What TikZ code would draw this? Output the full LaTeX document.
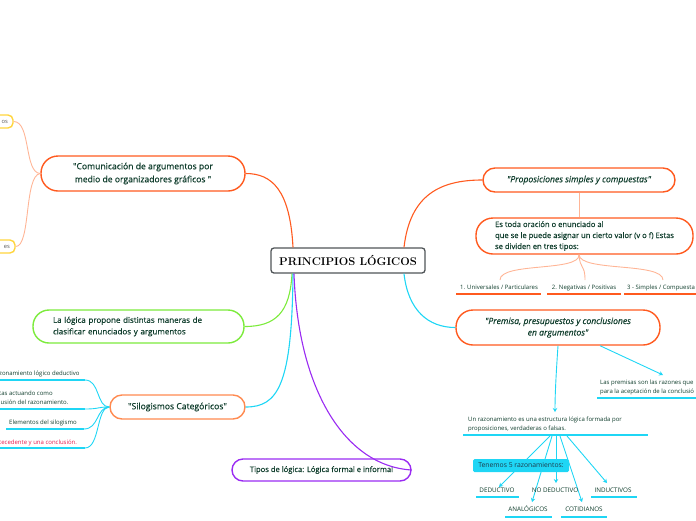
\documentclass[tikz,border=0pt]{standalone}
\usepackage{fontspec}
\newfontfamily\osf{Open Sans}
\newfontfamily\osb{Open Sans}[FakeBold=0.35]
\usetikzlibrary{arrows.meta}
\definecolor{ora}{HTML}{FF5A1F}
\definecolor{ora2}{HTML}{FF8A50}
\definecolor{salm}{HTML}{FFB596}
\definecolor{cya}{HTML}{1FD6F5}
\definecolor{grn}{HTML}{7CEB3C}
\definecolor{pur}{HTML}{9A2BF2}
\definecolor{yel}{HTML}{FFD53D}
\definecolor{txt}{HTML}{0F3D2C}
\definecolor{txtb}{HTML}{1D3A4A}
\definecolor{redt}{HTML}{E8194B}
\definecolor{cgray}{HTML}{505558}
\begin{document}
\begin{tikzpicture}[x=1pt,y=-1pt,
  base/.style={text=txt},
  pill/.style={base, draw, line width=1.4pt, fill=white, inner sep=0pt},
  conn/.style={line width=1.1pt},
  uline/.style={line width=1.8pt},
  small/.style={base, font=\osf\fontsize{6}{8}\selectfont, inner sep=0pt},
  caps/.style={base, font=\osf\fontsize{6.3}{7}\selectfont, inner sep=0pt, anchor=base},
  arr/.style={cya, line width=0.9pt, -{Stealth[length=4pt,width=4.5pt]}},
]
\useasboundingbox (0,0) rectangle (696,520);
\clip (0,0) rectangle (696,520);

% central
\node[draw=cgray, line width=1.3pt, rounded corners=3pt, fill=white, minimum width=154pt, minimum height=25pt, inner sep=0pt, font=\rmfamily\bfseries\fontsize{11.2}{13}\selectfont] (c) at (348,260.5) {PRINCIPIOS LÓGICOS};

% main topics
\node[pill, draw=ora, minimum width=204pt, minimum height=35pt, rounded corners=17pt, align=center, font=\osb\fontsize{8.6}{13}\selectfont] (com) at (143,173.5) {"Comunicación de argumentos por\\medio de organizadores gráficos "};
\node[pill, draw=grn, minimum height=33pt, rounded corners=16pt, text width=171pt, inner xsep=20pt, align=left, font=\osb\fontsize{8}{11.5}\selectfont] (lg) at (138.5,326.5) {La lógica propone distintas maneras de\\clasificar enunciados y argumentos};
\node[pill, draw=ora2, minimum width=135pt, minimum height=24pt, rounded corners=12pt, font=\osb\fontsize{8.6}{10}\selectfont] (sil) at (177.5,407) {"Silogismos Categóricos"};
\node[pill, draw=pur, fill=none, minimum width=179pt, minimum height=22pt, rounded corners=11pt, font=\osb\fontsize{7.6}{9}\selectfont] (tip) at (321.5,470) {Tipos de lógica: Lógica formal e informal};
\node[pill, draw=ora, minimum width=192pt, minimum height=24pt, rounded corners=12pt, font=\osb\itshape\fontsize{8.6}{10}\selectfont] (prop) at (579,180) {"Proposiciones simples y compuestas"};
\node[pill, draw=ora, minimum width=217pt, minimum height=36pt, rounded corners=17pt, align=left, font=\osb\fontsize{7.6}{11}\selectfont] (es) at (584.5,236) {Es toda oración o enunciado al\\que se le puede asignar un cierto valor (v o f) Estas\\se dividen en tres tipos:};
\node[pill, draw=ora, minimum width=204pt, minimum height=35pt, rounded corners=17pt, align=center, font=\osb\itshape\fontsize{8.6}{11.5}\selectfont] (prem) at (558,327.5) {"Premisa, presupuestos y conclusiones\\en argumentos"};

% yellow boxes (cut by the left edge)
\node[draw=yel, line width=1.4pt, rounded corners=5pt, minimum height=13pt, text width=45pt, inner xsep=5pt, inner ysep=0pt, align=right, fill=white, text=gray!70!black, font=\osf\fontsize{5.8}{7}\selectfont] (y1) at (-14.5,121.5) {os};
\node[draw=yel, line width=1.4pt, rounded corners=5pt, minimum height=13pt, text width=45pt, inner xsep=5pt, inner ysep=0pt, align=right, fill=white, text=gray!70!black, font=\osf\fontsize{5.8}{7}\selectfont] (y2) at (-12.5,246.5) {es};

% connectors from central
\draw[conn, ora] ([xshift=-55pt]c.north) .. controls (290,190) and (272,173.5) .. (com.east);
\draw[conn, grn] ([xshift=-56pt]c.south) .. controls (290,312) and (276,326.5) .. (lg.east);
\draw[conn, cya] ([xshift=-55pt]c.south) .. controls (292,385) and (278,407) .. (sil.east);
\draw[conn, pur] ([xshift=-54pt]c.south) .. controls (298,390) and (345,466) .. (tip.east);
\draw[conn, ora] ([xshift=56pt]c.north) .. controls (410,195) and (440,180) .. (prop.west);
\draw[conn, cya] ([xshift=56pt]c.south) .. controls (408,310) and (428,327.5) .. (prem.west);

% com -> yellow boxes
\draw[salm, line width=0.9pt] (com.west) .. controls (24,173) and (31,121.5) .. (y1.east);
\draw[salm, line width=0.9pt] (com.west) .. controls (24,175) and (31,246.5) .. (y2.east);

% silogismos children
\coordinate (u1) at (85,380);
\coordinate (u2) at (85,409);
\coordinate (u3) at (84,429);
\coordinate (u4) at (85,448);
\draw[uline, cya] (-5,380) -- (u1);
\draw[uline, cya] (-5,409) -- (u2);
\draw[uline, cya] (6,429) -- (u3);
\draw[uline, cya] (-5,448) -- (u4);
\foreach \u in {u1,u2,u3,u4}
  \draw[cya, line width=0.9pt] (sil.west) .. controls +(-13,0) and +(15,0) .. (\u);
\node[small, anchor=base west] (s1) at (-1,375) {zonamiento lógico deductivo};
\node[small, anchor=base west] (s2) at (-1,395) {tas actuando como};
\node[small, anchor=base west] (s2b) at (-1,404) {lusión del razonamiento.};
\node[small, anchor=base west] (s3) at (9,424) {Elementos del silogismo};
\node[small, anchor=base west, text=redt] (s4) at (-1,444) {tecedente y una conclusión.};

% proposiciones children
\draw[salm, line width=0.9pt] (prop.south) -- (prop.south |- es.north);
\coordinate (pb) at (prop.south |- es.south);
\coordinate (p1) at (500,280);
\coordinate (p2) at (585,280);
\coordinate (p3) at (663,280);
\draw[salm, line width=0.9pt] (pb) .. controls (580,272) and (500,262) .. (p1);
\draw[salm, line width=0.9pt] (pb) .. controls (580,270) and (585,264) .. (p2);
\draw[salm, line width=0.9pt] (pb) .. controls (580,272) and (663,262) .. (p3);
\node[small, anchor=base] (t1) at (499,289) {1. Universales / Particulares};
\node[small, anchor=base] (t2) at (584,289) {2. Negativas / Positivas};
\node[small, anchor=base west] (t3) at (627,289) {3 - Simples / Compuesta};
\draw[ora, line width=1.5pt] (456,294) -- (541,294);
\draw[ora, line width=1.5pt] (547,294) -- (621,294);
\draw[ora, line width=1.5pt] (624,294) -- (700,294);

% premisa children
\coordinate (pa) at (663,375);
\draw[arr] ([xshift=42pt]prem.south) -- (pa);
\node[small, anchor=base west] (lp1) at (600,384) {Las premisas son las razones que};
\node[small, anchor=base west] (lp2) at (600,393) {para la aceptación de la conclusió};
\draw[uline, cya] (597,398) -- (700,398);

\coordinate (razin) at (555,412);
\draw[arr] (prem.south) .. controls (556,375) and (555,395) .. (razin);
\node[small, anchor=base west] (r1) at (468,421) {Un razonamiento es una estructura lógica formada por};
\node[small, anchor=base west] (r2) at (468,430) {proposiciones, verdaderas o falsas.};
\draw[uline, cya] (463,435) -- (648,435);

\coordinate (f1) at (550,436);
\coordinate (f2) at (552,436);
\coordinate (f3) at (556,436);
\coordinate (f4) at (560,436);
\coordinate (f5) at (567,436);
\coordinate (d1) at (499,487);
\coordinate (d2) at (532,502);
\coordinate (d3) at (556,483);
\coordinate (d4) at (582,502);
\coordinate (d5) at (607,483);
\draw[arr] (f1) -- (d1);
\draw[arr] (f2) -- (d2);
\draw[arr] (f3) -- (d3);
\draw[arr] (f4) -- (d4);
\draw[arr] (f5) -- (d5);

\node[fill=cya, rounded corners=1.5pt, minimum width=96pt, minimum height=13pt, inner sep=0pt, text=txtb, font=\osf\fontsize{6.8}{8}\selectfont] (ten) at (521,465.5) {Tenemos 5 razonamientos:};

\node[caps] (k1) at (497,492) {DEDUCTIVO};
\node[caps] (k2) at (555,492) {NO DEDUCTIVO};
\node[caps] (k3) at (613,492) {INDUCTIVOS};
\node[caps] (k4) at (528,511) {ANALÓGICOS};
\node[caps] (k5) at (584,511) {COTIDIANOS};
\draw[uline, cya] (476,497) -- (519,497);
\draw[uline, cya] (591,497) -- (637,497);
\draw[uline, cya] (505,517) -- (552,517);
\draw[uline, cya] (561,517) -- (607,517);
\end{tikzpicture}
\end{document}
